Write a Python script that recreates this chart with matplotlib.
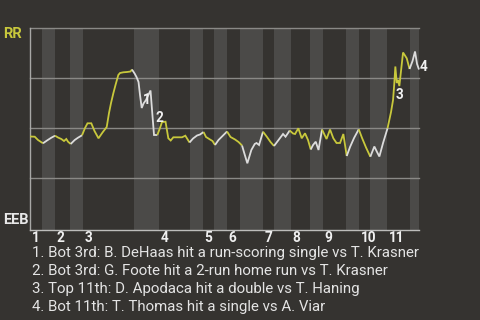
import matplotlib
matplotlib.use("Agg")
import matplotlib.pyplot as plt
import matplotlib.transforms as mtransforms

# ---- data (x = play progress 0..100, y = RR win probability %) ----
plays = [0.0, 1.21, 2.06, 3.34, 4.37, 5.48, 6.43, 7.20, 8.05, 8.74,
         9.33, 9.77, 10.46, 11.49, 12.34, 13.37, 14.14, 14.78, 15.76, 16.58,
         17.61, 18.64, 19.72, 20.31, 20.83, 21.42, 21.98, 22.70, 23.14, 23.99,
         24.94, 25.84, 26.22, 26.92, 27.38, 27.90, 28.28, 28.72, 29.18, 29.82,
         30.98, 31.49, 31.88, 32.73, 33.42, 33.94, 34.84, 35.56, 36.17, 36.84,
         38.05, 39.08, 39.93, 41.01, 41.91, 42.94, 43.71, 44.61, 45.25, 46.28,
         46.92, 47.56, 48.46, 49.36, 50.65, 51.55, 52.71, 53.61, 54.51, 55.15,
         55.87, 56.90, 57.77, 58.23, 58.88, 59.90, 60.93, 61.83, 62.73, 63.89,
         65.05, 65.69, 66.77, 67.62, 68.13, 68.98, 69.85, 70.70, 71.47, 72.17,
         72.76, 73.45, 74.17, 75.07, 76.23, 77.13, 77.98, 78.80, 79.70, 80.55,
         81.42, 82.27, 83.30, 84.51, 85.36, 86.38, 87.49, 88.52, 89.21, 89.81,
         90.76, 91.91, 92.81, 93.33, 93.64, 93.92, 94.28, 94.61, 94.95, 95.90,
         96.85, 97.57, 98.34, 98.98, 99.50, 100.0]
wp = [45.9, 45.8, 44.15, 42.5, 43.9, 45.3, 46.3, 45.4, 44.65, 43.65,
      44.65, 43.3, 42.15, 44.15, 45.3, 46.5, 50.15, 52.5, 52.5, 48.65,
      45.0, 47.9, 50.65, 57.65, 62.65, 67.5, 71.65, 76.65, 77.65, 78.0,
      78.15, 78.4, 79.4, 77.3, 75.65, 73.15, 66.65, 60.15, 62.4, 64.15,
      68.9, 56.15, 46.65, 46.65, 50.15, 53.15, 53.3, 45.0, 43.9, 45.5,
      45.5, 45.5, 46.3, 42.9, 44.9, 46.4, 46.9, 48.15, 45.65, 44.4,
      43.65, 41.65, 44.15, 45.9, 48.4, 45.65, 44.4, 43.15, 41.4, 37.15,
      32.5, 39.15, 42.15, 42.65, 41.65, 48.3, 45.65, 43.15, 41.15, 44.15,
      47.15, 45.8, 48.9, 47.4, 47.15, 50.0, 45.0, 47.5, 44.15, 39.4,
      41.65, 43.3, 39.15, 49.4, 44.65, 49.4, 45.0, 42.65, 42.65, 47.15,
      36.15, 40.65, 45.15, 49.5, 45.15, 40.4, 35.8, 40.9, 38.15, 35.9,
      42.65, 50.0, 58.15, 64.15, 72.15, 80.9, 72.65, 74.15, 71.15, 87.9,
      85.0, 79.65, 83.65, 88.4, 82.15, 79.4]
half = list("TTTTBBBTTTTTTBBBTTTTTTTTTTTTTTTTTBBBBBBBBBBBTTTTTTTTTTBBBBTTTTBBBTTTTBBBBBBBTTTBBBBTTTTTTTBBBBTTTTTTTBBBTTTBBBBBTTTTTTTTTTBBBB")

bottom_start = [3.01, 10.28, 26.82, 41.14, 47.31, 53.99, 62.73, 71.99, 81.24, 87.41, 97.70]
bottom_end = [6.43, 13.63, 33.17, 44.48, 50.65, 59.83, 67.10, 75.33, 84.59, 91.79, 100.0]
inning_start = [0.0, 6.43, 13.63, 33.17, 44.48, 50.65, 59.83, 67.10, 75.33, 84.59, 91.79]
inning_labels = ["1", "2", "3", "4", "5", "6", "7", "8", "9", "10", "11"]

event_ids = ["1", "2", "3", "4"]
event_x = [30.1, 33.2, 94.95, 101.1]
event_y = [64.2, 54.9, 66.6, 80.5]
notes = [
    "1. Bot 3rd: B. DeHaas hit a run-scoring single vs T. Krasner",
    "2. Bot 3rd: G. Foote hit a 2-run home run vs T. Krasner",
    "3. Top 11th: D. Apodaca hit a double vs T. Haning",
    "4. Bot 11th: T. Thomas hit a single vs A. Viar",
]
team_top = "RR"
team_bottom = "EEB"

# ---- style ----
BG = "#353330"
BAND = "#4b4a48"
GRID = "#8a8986"
YEL = "#c8c83c"
WHT = "#dcdcdc"
TXT = "#e4e4e4"
plt.rcParams["font.family"] = ["Roboto", "DejaVu Sans"]

W, H = 480, 320
fig = plt.figure(figsize=(4.8, 3.2), dpi=100, facecolor=BG)
ax = fig.add_axes([30 / W, 1 - 230 / H, 389 / W, (230 - 28.3) / H])
ax.set_facecolor(BG)
ax.set_xlim(0, 100)
ax.set_ylim(-0.85, 100)
ax.set_xticks([])
ax.set_yticks([])
for s in ["top", "right"]:
    ax.spines[s].set_visible(False)
ax.spines["left"].set_color("#a8a8a6")
ax.spines["bottom"].set_color("#bdbdbb")
ax.spines["left"].set_linewidth(1.0)
ax.spines["bottom"].set_linewidth(1.0)

for a, b in zip(bottom_start, bottom_end):
    ax.axvspan(a, b, color=BAND, lw=0, zorder=0)
for g in [25, 50, 75, 100]:
    ax.axhline(g, color=GRID, lw=1.0, zorder=1, clip_on=False)

# line split into runs by half-inning
i = 1
n = len(plays)
while i < n:
    j = i
    while j + 1 < n and half[j + 1] == half[i]:
        j += 1
    xs = plays[i - 1:j + 1]
    ys = wp[i - 1:j + 1]
    ax.plot(xs, ys, color=YEL if half[i] == "T" else WHT, lw=1.3,
            solid_joinstyle="miter", solid_capstyle="butt", zorder=3, clip_on=False)
    i = j + 1

for lab, ex, ey in zip(event_ids, event_x, event_y):
    ax.text(ex, ey, lab, color="#f0f0f0", fontsize=9.8, fontweight="bold",
            ha="center", va="center", zorder=4, clip_on=False)

# inning labels
blend = mtransforms.blended_transform_factory(ax.transData, fig.transFigure)
off = mtransforms.offset_copy(blend, fig=fig, x=1.5, y=0, units="dots")
for x, lab in zip(inning_start, inning_labels):
    ax.text(x, 1 - 237.7 / H, lab, transform=off, color="#f0f0f0", fontsize=9.8,
            fontweight="bold", ha="left", va="center")

fig.text(3 / W, 1 - 34.5 / H, team_top, color=YEL, fontsize=10.5, fontweight="bold",
         ha="left", va="center")
fig.text(3 / W, 1 - 219.5 / H, team_bottom, color="#e8e8e8", fontsize=10.5,
         fontweight="bold", ha="left", va="center")

for k, t in enumerate(notes):
    fig.text(31.5 / W, 1 - (253.3 + k * 17.8) / H, t, color=TXT, fontsize=10.8,
             ha="left", va="center")

fig.savefig("out.png", dpi=100, facecolor=BG)
